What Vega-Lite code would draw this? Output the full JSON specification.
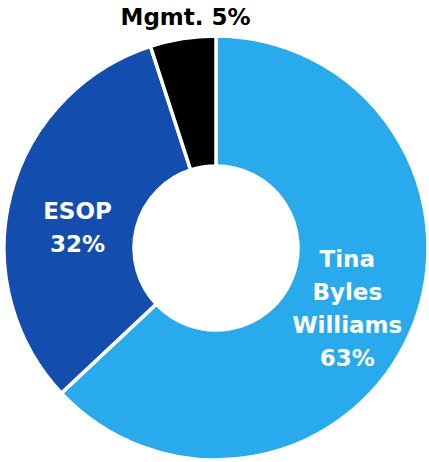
{
  "$schema": "https://vega.github.io/schema/vega-lite/v6.json",
  "width": 432,
  "height": 496,
  "autosize": {"type": "none"},
  "padding": 0,
  "background": "white",
  "view": {"stroke": null},
  "data": {"values": [
    {"owner": "Tina Byles Williams", "share": 63, "label": "Tina\nByles\nWilliams\n63%"},
    {"owner": "ESOP", "share": 32, "label": "ESOP\n32%"},
    {"owner": "Mgmt.", "share": 5, "label": "Mgmt. 5%"}
  ]},
  "encoding": {
    "theta": {"field": "share", "type": "quantitative", "stack": true},
    "order": {"field": "share", "type": "quantitative", "sort": "descending"}
  },
  "layer": [
    {
      "mark": {"type": "arc", "outerRadius": 212, "innerRadius": 82, "stroke": "white", "strokeWidth": 3.5},
      "encoding": {
        "color": {"field": "owner", "type": "nominal", "legend": null,
          "scale": {"domain": ["Tina Byles Williams", "ESOP", "Mgmt."], "range": ["#29AAEC", "#134EAF", "#000000"]}}
      }
    },
    {
      "mark": {"type": "text", "radius": 143, "dy": -45, "color": "white", "font": "DejaVu Sans", "fontWeight": "bold", "fontSize": 23, "lineBreak": "\n", "lineHeight": 33, "align": "center", "baseline": "middle"},
      "encoding": {"text": {"condition": {"test": "datum.owner === 'Tina Byles Williams'", "field": "label"}, "value": ""}}
    },
    {
      "mark": {"type": "text", "radius": 143, "color": "white", "font": "DejaVu Sans", "fontWeight": "bold", "fontSize": 23, "lineBreak": "\n", "lineHeight": 33, "align": "center", "baseline": "middle"},
      "encoding": {"text": {"condition": {"test": "datum.owner === 'ESOP'", "field": "label"}, "value": ""}}
    },
    {
      "mark": {"type": "text", "radius": 233, "dx": 6, "color": "black", "font": "DejaVu Sans", "fontWeight": "bold", "fontSize": 23, "align": "center", "baseline": "middle"},
      "encoding": {"text": {"condition": {"test": "datum.owner === 'Mgmt.'", "field": "label"}, "value": ""}}
    }
  ]
}
